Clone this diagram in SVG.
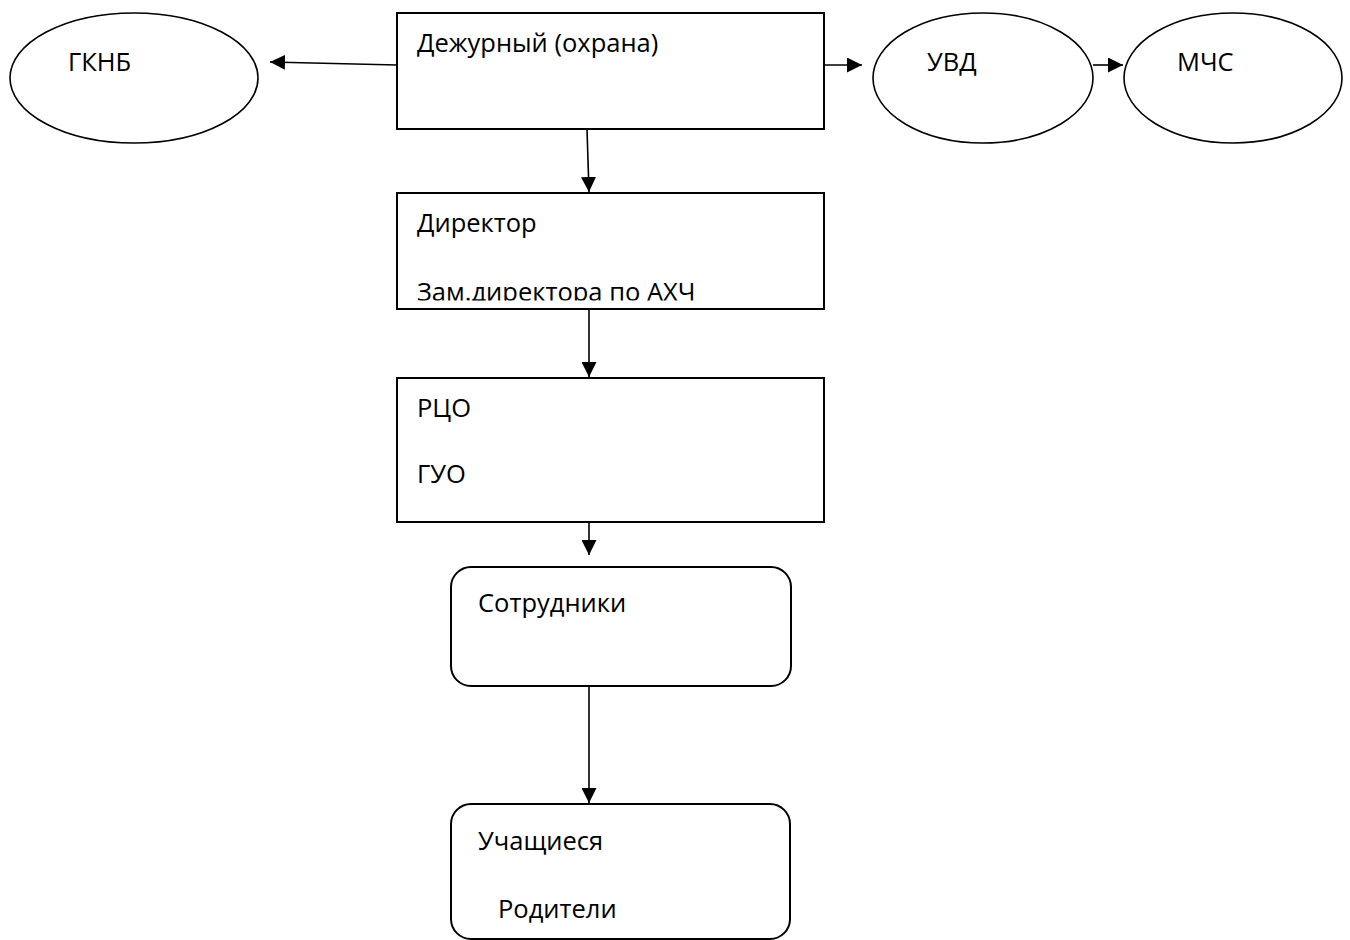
<svg xmlns="http://www.w3.org/2000/svg" width="1350" height="940" viewBox="0 0 1350 940">
<style>
.box{fill:#fff;stroke:#000;stroke-width:2}
.ell{fill:#fff;stroke:#000;stroke-width:1.6}
.t{font-family:"Open Sans","Noto Sans",sans-serif;font-size:25.5px;fill:#000}
.c{stroke:#000;stroke-width:1.6;fill:none;marker-end:url(#ah)}
</style>
<defs>
<marker id="ah" viewBox="0 0 10 10" refX="10" refY="5" markerWidth="15" markerHeight="15" markerUnits="userSpaceOnUse" orient="auto">
<path d="M0,0 L10,5 L0,10 z" fill="#000"/>
</marker>
<clipPath id="clipZam"><rect x="397" y="193" width="427" height="107.5"/></clipPath>
</defs>
<rect width="1350" height="940" fill="#fff"/>
<g id="connectors">
<line x1="397" y1="65" x2="270" y2="62" class="c"/>
<line x1="824" y1="65" x2="862" y2="65" class="c"/>
<line x1="1093" y1="65" x2="1123" y2="65" class="c"/>
<line x1="587" y1="129" x2="589" y2="192" class="c"/>
<line x1="589" y1="309" x2="589" y2="377" class="c"/>
<line x1="589" y1="522" x2="589" y2="555" class="c"/>
<line x1="589" y1="686" x2="589" y2="803" class="c"/>
</g>
<g id="gknb">
<ellipse cx="134" cy="78" rx="124" ry="65" class="ell"/>
<text x="68" y="71" class="t">ГКНБ</text>
</g>
<g id="duty">
<rect x="397" y="13" width="427" height="116" class="box"/>
<text x="417" y="52" class="t">Дежурный (охрана)</text>
</g>
<g id="uvd">
<ellipse cx="983" cy="78" rx="110" ry="65" class="ell"/>
<text x="927" y="71" class="t">УВД</text>
</g>
<g id="mchs">
<ellipse cx="1233" cy="78" rx="109" ry="65" class="ell"/>
<text x="1177" y="71" class="t">МЧС</text>
</g>
<g id="director">
<rect x="397" y="193" width="427" height="116" class="box"/>
<text x="417" y="232" class="t">Директор</text>
<text x="417" y="301" class="t" clip-path="url(#clipZam)">Зам.директора по АХЧ</text>
</g>
<g id="rco">
<rect x="397" y="378" width="427" height="144" class="box"/>
<text x="417" y="417" class="t">РЦО</text>
<text x="417" y="483" class="t">ГУО</text>
</g>
<g id="staff">
<rect x="451" y="567" width="340" height="119" rx="20" ry="20" class="box"/>
<text x="478" y="612" class="t">Сотрудники</text>
</g>
<g id="students">
<rect x="451" y="804" width="339" height="135" rx="20" ry="20" class="box"/>
<text x="478" y="850" class="t">Учащиеся</text>
<text x="498" y="918" class="t">Родители</text>
</g>
</svg>
